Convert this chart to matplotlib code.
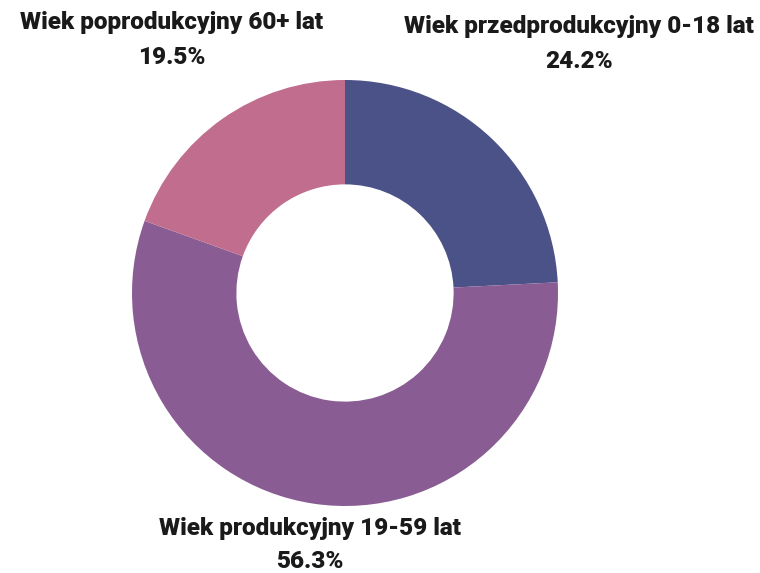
import matplotlib
matplotlib.use("Agg")
import matplotlib.pyplot as plt

categories = ["Wiek przedprodukcyjny 0-18 lat", "Wiek produkcyjny 19-59 lat", "Wiek poprodukcyjny 60+ lat"]
values = [24.2, 56.3, 19.5]
colors = ["#4a5287", "#8a5c94", "#c06d8e"]

W, H = 760, 573
fig = plt.figure(figsize=(W / 100, H / 100), dpi=100)
cx, cy, r = 345, 293, 213
ax = fig.add_axes([(cx - r) / W, (H - cy - r) / H, 2 * r / W, 2 * r / H])
ax.pie(values, colors=colors, startangle=90, counterclock=False,
       radius=1.0, wedgeprops=dict(width=0.49, edgecolor="none"))
ax.set_xlim(-1, 1)
ax.set_ylim(-1, 1)
ax.set_aspect("equal")
ax.axis("off")

label_pos = [(579, 27, 62), (310, 528, 562), (172, 22, 58)]
for cat, val, (x, y1, y2) in zip(categories, values, label_pos):
    fig.text(x / W, 1 - y1 / H, cat, ha="center", va="center",
             fontsize=17.5, fontweight="heavy", family="Roboto", color="#1a1a1a")
    fig.text(x / W, 1 - y2 / H, f"{val:.1f}%", ha="center", va="center",
             fontsize=17.5, fontweight="heavy", family="Roboto", color="#1a1a1a")

fig.savefig("out.png", dpi=100, facecolor="white")
